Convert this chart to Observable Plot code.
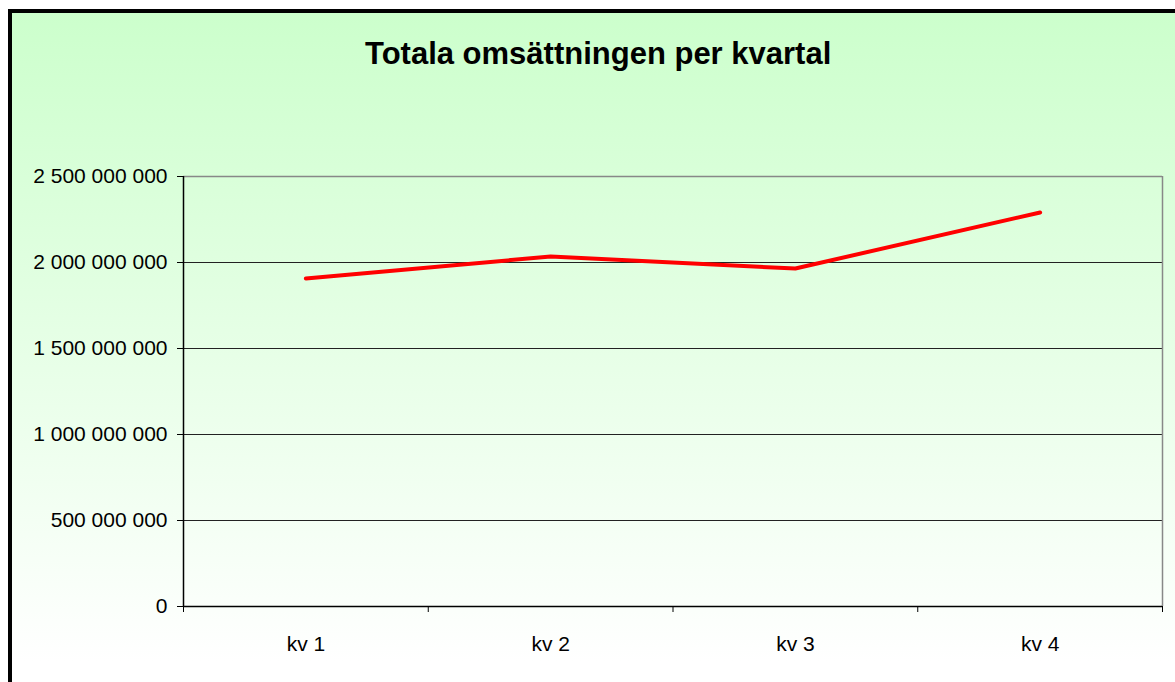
<!DOCTYPE html>
<html>
<head>
<meta charset="utf-8">
<script src="https://cdn.jsdelivr.net/npm/d3@7"></script>
<script src="https://cdn.jsdelivr.net/npm/@observablehq/plot@0.6"></script>
<style>
  html, body { margin: 0; padding: 0; background: #ffffff; overflow: hidden; }
  #frame {
    position: absolute; left: 8px; top: 9px;
    width: 1175px; height: 682px;
    border-left: 4px solid #000; border-top: 4px solid #000;
    background: linear-gradient(to bottom, #ccffcc 0%, #ffffff 95%);
    font-family: "Liberation Sans", Arial, sans-serif;
  }
  #title {
    height: 130px; box-sizing: border-box;
    padding-left: 353px; padding-top: 25px;
    font-size: 31px; line-height: 31px; font-weight: bold; color: #000;
    white-space: nowrap;
  }
  #chart svg { display: block; background: transparent; }
</style>
</head>
<body>
<div id="frame">
  <div id="title">Totala omsättningen per kvartal</div>
  <div id="chart"></div>
</div>
<script>
const quarters = ["kv 1", "kv 2", "kv 3", "kv 4"];
const revenue = [1907000000, 2035000000, 1965000000, 2291000000];
const yTicks = [0, 500000000, 1000000000, 1500000000, 2000000000, 2500000000];

const data = quarters.map((q, i) => ({pos: i + 0.5, q, value: revenue[i]}));
const fmt = v => d3.format(",")(v).replace(/,/g, " ");

const chart = Plot.plot({
  width: 1163,
  height: 539,
  marginLeft: 171,
  marginRight: 13,
  marginTop: 33,
  marginBottom: 76,
  style: {fontFamily: "'Liberation Sans', Arial, sans-serif", fontSize: "21px", color: "#000", background: "transparent"},
  x: {domain: [0, quarters.length]},
  y: {domain: [0, 2500000000]},
  marks: [
    Plot.gridY(yTicks, {stroke: "#222", strokeOpacity: 1, strokeWidth: 1.2}),
    Plot.ruleY([2500000000], {stroke: "#888", strokeWidth: 1.5}),
    Plot.ruleX([quarters.length], {stroke: "#888", strokeWidth: 1.5}),
    Plot.axisY(yTicks, {tickSize: 6, tickPadding: 10, tickFormat: fmt, stroke: "#000", label: null, fontSize: 21}),
    Plot.ruleX([0], {stroke: "#000", strokeWidth: 1.5}),
    Plot.ruleY([0], {stroke: "#000", strokeWidth: 1.5}),
    Plot.axisX(d3.range(quarters.length + 1), {tickSize: 6, tickFormat: () => "", stroke: "#000", label: null}),
    Plot.axisX(data.map(d => d.pos), {tickSize: 0, tickPadding: 30, tickFormat: p => quarters[Math.floor(p)], label: null, fontSize: 21}),
    Plot.line(data, {x: "pos", y: "value", stroke: "#ff0000", strokeWidth: 4})
  ]
});
document.getElementById("chart").appendChild(chart);
</script>
</body>
</html>
